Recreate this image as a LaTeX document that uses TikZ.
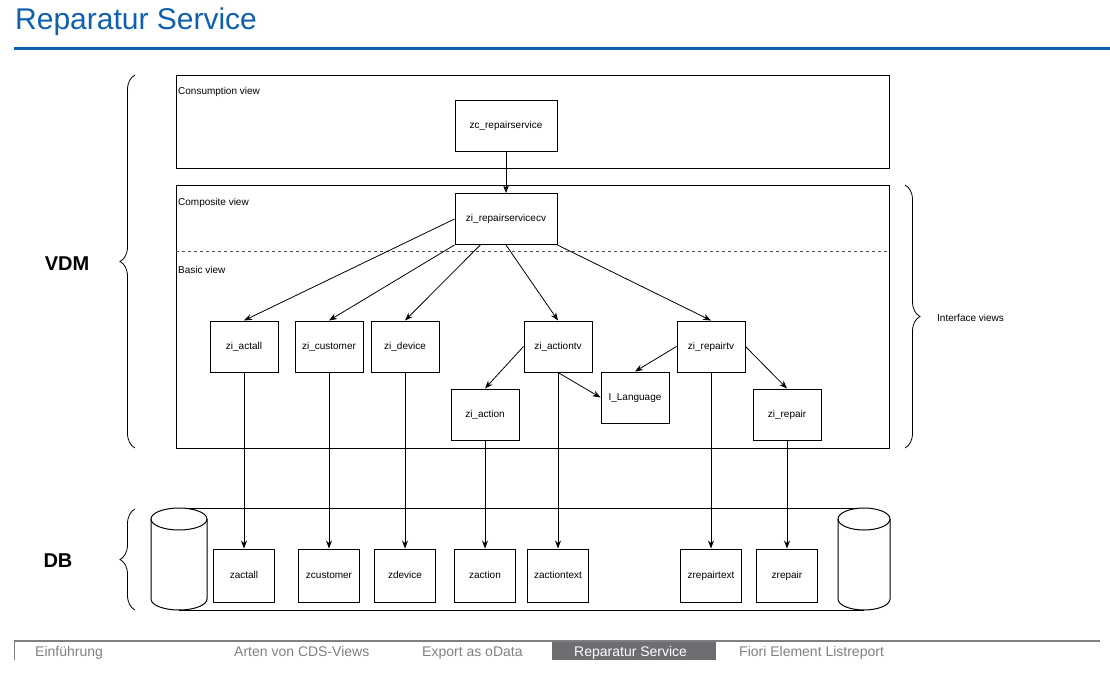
\documentclass[tikz,border=0pt]{standalone}
\usepackage{fontspec}
\setmainfont{Liberation Sans}
\usetikzlibrary{arrows.meta,calc,decorations.pathreplacing}
\definecolor{sapblue}{RGB}{16,96,176}
\definecolor{tabgrey}{RGB}{108,110,114}
\definecolor{txtgrey}{RGB}{128,128,128}

\begin{document}
\begin{tikzpicture}[x=1pt,y=-1pt,
    box/.style={draw, line width=1pt, minimum width=68, minimum height=51, inner sep=0pt,
        text height=7.5pt, text depth=2pt, font=\fontsize{10}{12}\selectfont},
    bigbox/.style={box, minimum width=102},
    dbbox/.style={box, minimum width=61, minimum height=53},
    arr/.style={-{Stealth[length=8pt,width=6pt]}, line width=0.8pt},
    lbl/.style={anchor=west, inner sep=0pt, font=\fontsize{10}{12}\selectfont},
    brc/.style={decorate, decoration={brace, amplitude=15pt}, line width=0.8pt},
    tab/.style={anchor=base west, inner sep=0pt, text=txtgrey, font=\fontsize{14}{16}\selectfont}]
    \useasboundingbox (0,0) rectangle (1110,680);

    % header
    \node[anchor=base west, inner sep=0pt, text=sapblue, font=\fontsize{30}{32}\selectfont] (title) at (15,29) {Reparatur Service};
    \draw[sapblue, line width=3pt] (14,48) -- (1110,48);

    % view layers
    \draw[line width=1pt] (176,75) rectangle (889,168);
    \draw[line width=1pt] (176,185) rectangle (889,448);
    \draw[dash pattern=on 3pt off 3pt, line width=0.8pt, black!70] (176,251) -- (889,251);
    \node[lbl] at (178,92) {Consumption view};
    \node[lbl] at (178,203) {Composite view};
    \node[lbl] at (178,270) {Basic view};

    \node[bigbox] (zc) at (506,125.5) {zc\_repairservice};
    \node[bigbox] (cv) at (506,219) {zi\_repairservicecv};
    \node[box] (actall) at (244,346.5) {zi\_actall};
    \node[box] (customer) at (329,346.5) {zi\_customer};
    \node[box] (device) at (405,346.5) {zi\_device};
    \node[box] (actiontv) at (558,346.5) {zi\_actiontv};
    \node[box] (repairtv) at (711,346.5) {zi\_repairtv};
    \node[box] (action) at (485,414.5) {zi\_action};
    \node[box] (lang) at (635,397.5) {I\_Language};
    \node[box] (repair) at (787,414.5) {zi\_repair};

    % database
    \draw[line width=1pt] (179,508) -- (864,508);
    \draw[line width=1pt] (179,610) -- (864,610);
    \draw[line width=1pt, fill=white] (151,519) -- (151,599) arc[start angle=180, end angle=360, x radius=28pt, y radius=11pt]
        -- (207,519) arc[start angle=0, end angle=180, x radius=28pt, y radius=11pt];
    \draw[line width=1pt] (151,519) arc[start angle=180, end angle=360, x radius=28pt, y radius=11pt];
    \draw[line width=1pt, fill=white] (838,519) -- (838,599) arc[start angle=180, end angle=360, x radius=26pt, y radius=11pt]
        -- (890,519) arc[start angle=0, end angle=180, x radius=26pt, y radius=11pt];
    \draw[line width=1pt] (838,519) arc[start angle=180, end angle=360, x radius=26pt, y radius=11pt];

    \node[dbbox] (zactall) at (actall |- 0,575.5) {zactall};
    \node[dbbox] (zcustomer) at (customer |- 0,575.5) {zcustomer};
    \node[dbbox] (zdevice) at (device |- 0,575.5) {zdevice};
    \node[dbbox] (zaction) at (action |- 0,575.5) {zaction};
    \node[dbbox] (zactiontext) at (actiontv |- 0,575.5) {zactiontext};
    \node[dbbox] (zrepairtext) at (repairtv |- 0,575.5) {zrepairtext};
    \node[dbbox] (zrepair) at (repair |- 0,575.5) {zrepair};

    % connectors
    \draw[arr] (zc) -- (cv);
    \draw[arr] (cv.west) -- (actall.north);
    \draw[arr] (cv.south west) -- (customer.north);
    \draw[arr] ($(cv.south west)!0.25!(cv.south east)$) -- (device.north);
    \draw[arr] (cv.south) -- (actiontv.north);
    \draw[arr] (cv.south east) -- (repairtv.north);
    \draw[arr] (actiontv.west) -- (action.north);
    \draw[arr] (actiontv.south) -- (lang.west);
    \draw[arr] (repairtv.west) -- (lang.north);
    \draw[arr] (repairtv.east) -- (repair.north);
    \foreach \a/\b in {actall/zactall, customer/zcustomer, device/zdevice, action/zaction,
        actiontv/zactiontext, repairtv/zrepairtext, repair/zrepair}
        \draw[arr] (\a) -- (\b);

    % braces
    \draw[brc] (135,448) -- (135,75);
    \draw[brc] (135,610) -- (135,509);
    \draw[brc] (905,185) -- (905,448);
    \node[font=\fontsize{20}{22}\selectfont\bfseries] (vdm) at (67,264) {VDM};
    \node[font=\fontsize{20}{22}\selectfont\bfseries] (db) at (58,561) {DB};
    \node[lbl] (iv) at (937,318) {Interface views};

    % footer
    \draw[txtgrey, line width=1.2pt] (14,641) -- (1100,641);
    \draw[txtgrey, line width=1pt] (14,641) -- (14,660);
    \fill[tabgrey] (552,642) rectangle (716,660);
    \node[tab] at (35,656) {Einführung};
    \node[tab] at (234,656) {Arten von CDS-Views};
    \node[tab] at (422,656) {Export as oData};
    \node[tab, text=white] at (574,656) {Reparatur Service};
    \node[tab] at (739,656) {Fiori Element Listreport};
\end{tikzpicture}
\end{document}
